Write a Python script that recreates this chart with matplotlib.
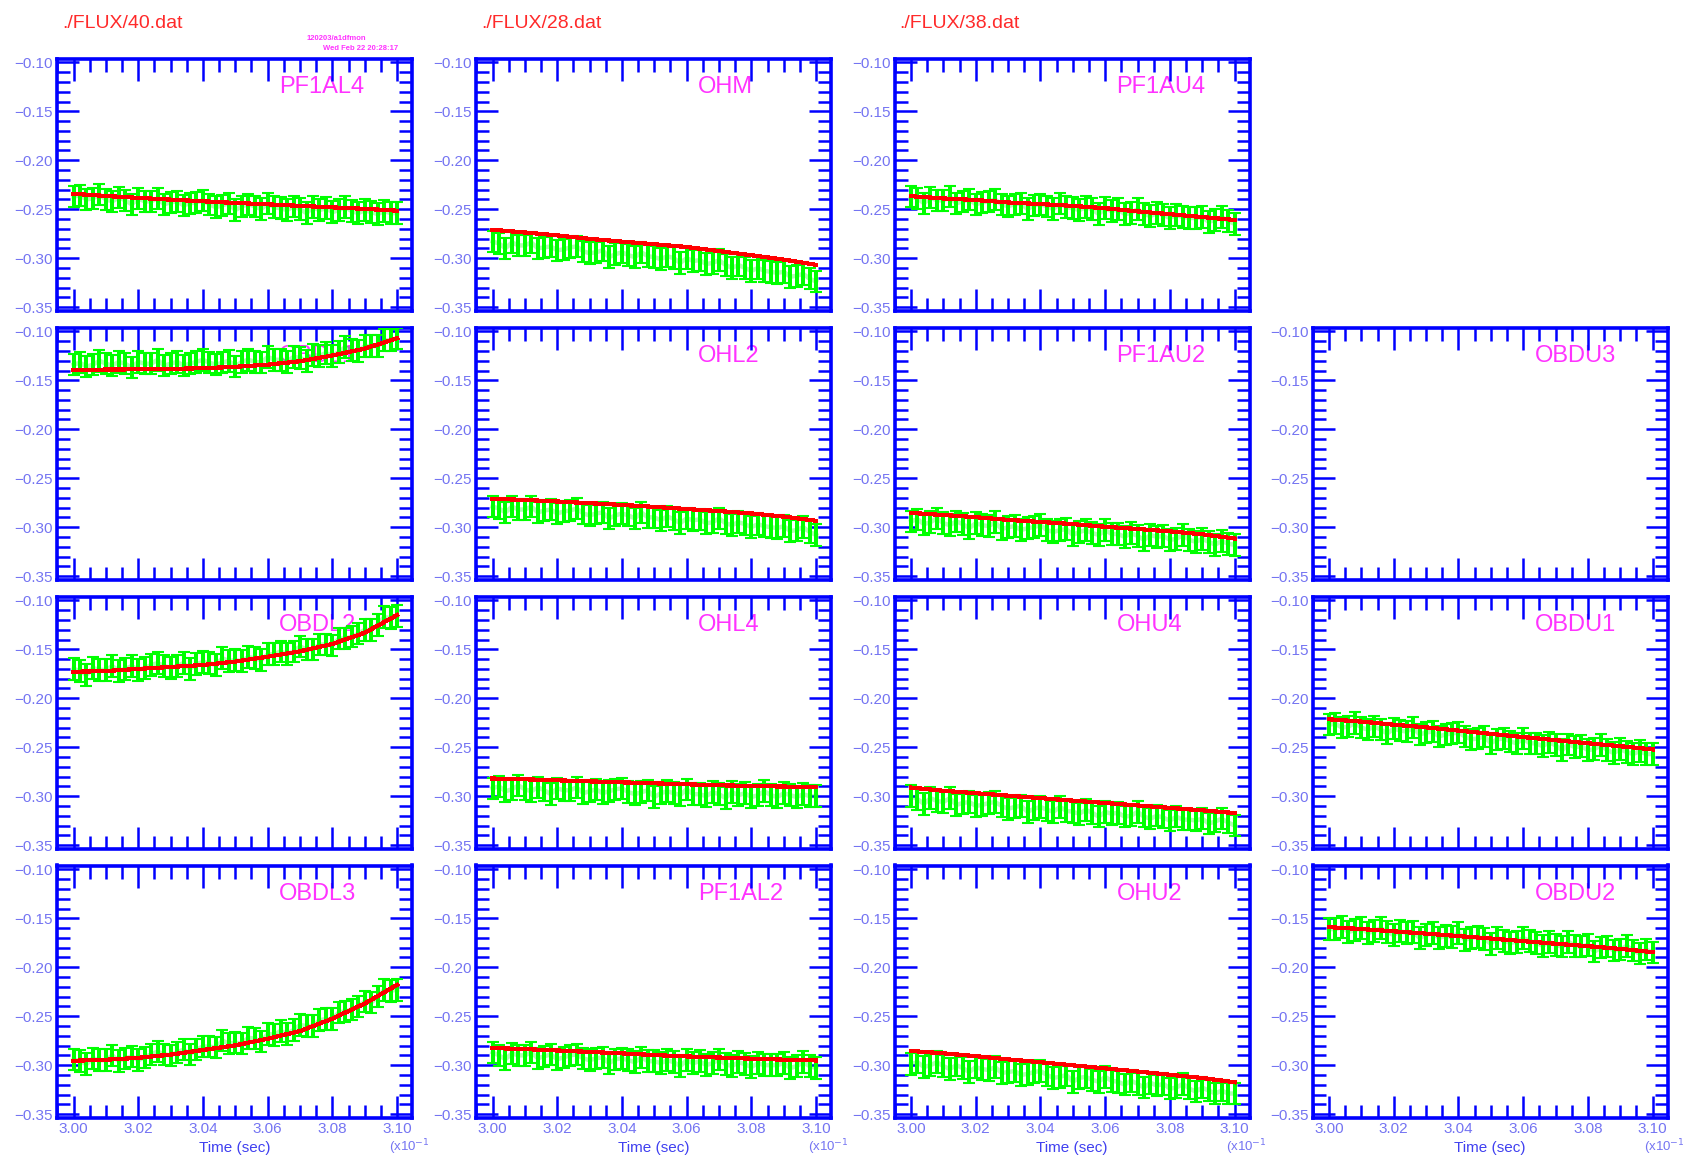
import numpy as np
import matplotlib.pyplot as plt
from matplotlib.ticker import MultipleLocator

plt.rcParams['font.family'] = ['Liberation Sans', 'DejaVu Sans']

W, H = 1689, 1157
BLUE = '#0000ff'
LBLUE = '#7474f2'
MAGENTA = '#ff33ff'

# times of the fit curve and of the measured points (sec, x10^-1)
t_fit = [3.00, 3.01, 3.02, 3.03, 3.04, 3.05, 3.06, 3.07, 3.08, 3.09, 3.10]
t_meas = [3.000, 3.002, 3.004, 3.006, 3.008, 3.010, 3.012, 3.014, 3.016, 3.018,
          3.020, 3.022, 3.024, 3.026, 3.028, 3.030, 3.032, 3.034, 3.036, 3.038,
          3.040, 3.042, 3.044, 3.046, 3.048, 3.050, 3.052, 3.054, 3.056, 3.058,
          3.060, 3.062, 3.064, 3.066, 3.068, 3.070, 3.072, 3.074, 3.076, 3.078,
          3.080, 3.082, 3.084, 3.086, 3.088, 3.090, 3.092, 3.094, 3.096, 3.098,
          3.100]

files = ['./FLUX/40.dat', './FLUX/28.dat', './FLUX/38.dat']

# panel names, row by row (None = empty cell)
names = [['PF1AL4', 'OHM', 'PF1AU4', None],
         ['OBDL1', 'OHL2', 'PF1AU2', 'OBDU3'],
         ['OBDL2', 'OHL4', 'OHU4', 'OBDU1'],
         ['OBDL3', 'PF1AL2', 'OHU2', 'OBDU2']]

# red fit curves (x1e-3)
fit_pf1al4 = [-234.2, -236.5, -238.4, -240.2, -241.9, -243.6, -245.0, -246.6, -248.1, -249.6, -251.5]
fit_ohm = [-271.0, -273.8, -276.7, -280.3, -283.1, -285.8, -288.6, -292.8, -297.0, -301.5, -306.8]
fit_pf1au4 = [-236.7, -239.0, -240.6, -243.1, -244.8, -246.6, -249.0, -252.2, -255.1, -258.0, -261.0]
fit_obdl1 = [-139.2, -139.0, -138.7, -138.3, -137.6, -136.2, -134.0, -130.5, -124.6, -117.6, -107.0]
fit_ohl2 = [-271.0, -272.2, -273.8, -275.5, -277.3, -279.3, -281.5, -283.6, -286.0, -289.2, -293.5]
fit_pf1au2 = [-285.5, -287.6, -289.8, -292.6, -294.7, -296.9, -299.6, -301.9, -304.3, -307.3, -311.6]
fit_obdl2 = [-172.9, -172.2, -170.0, -168.0, -166.0, -162.5, -157.5, -152.0, -144.5, -133.0, -115.0]
fit_ohl4 = [-282.0, -282.8, -283.8, -284.9, -285.9, -286.9, -287.9, -288.9, -289.6, -290.2, -290.8]
fit_ohu4 = [-291.2, -294.5, -297.0, -299.5, -302.0, -304.6, -307.0, -309.5, -312.0, -314.5, -317.3]
fit_obdu1 = [-221.5, -223.8, -227.0, -229.7, -233.0, -236.3, -239.6, -242.8, -246.0, -249.0, -252.2]
fit_obdl3 = [-295.5, -294.5, -292.5, -289.3, -284.5, -279.8, -273.0, -265.2, -252.5, -237.0, -218.0]
fit_pf1al2 = [-282.5, -283.6, -285.0, -286.5, -288.0, -289.7, -291.1, -292.2, -293.4, -294.4, -295.2]
fit_ohu2 = [-285.5, -287.9, -290.8, -294.1, -297.0, -300.2, -303.3, -306.5, -309.8, -313.1, -317.5]
fit_obdu2 = [-159.0, -160.9, -163.3, -165.6, -168.1, -170.6, -173.3, -175.9, -178.4, -181.2, -184.5]

# green measured points (x1e-3), error bar half height
meas_err = 11.0
meas_pf1al4 = [-237, -236, -240, -239, -235, -240, -242, -238, -241, -245,
               -239, -242, -242, -239, -245, -243, -242, -246, -244, -243,
               -241, -245, -248, -246, -244, -251, -247, -245, -247, -250,
               -244, -248, -249, -251, -247, -250, -254, -248, -251, -249,
               -253, -251, -248, -252, -254, -251, -253, -255, -252, -254,
               -254]
meas_ohm = [-283, -285, -290, -284, -287, -287, -284, -290, -289, -288,
            -292, -291, -289, -288, -293, -295, -294, -292, -299, -296,
            -294, -297, -299, -294, -298, -299, -301, -298, -300, -305,
            -300, -303, -302, -306, -305, -302, -307, -310, -307, -310,
            -313, -310, -313, -314, -315, -314, -319, -318, -316, -321,
            -324]
meas_pf1au4 = [-237, -239, -244, -238, -241, -241, -237, -244, -242, -240,
               -245, -243, -242, -240, -245, -247, -245, -244, -250, -246,
               -245, -247, -250, -244, -248, -249, -251, -248, -250, -255,
               -249, -252, -250, -255, -254, -250, -255, -257, -254, -256,
               -259, -256, -258, -259, -259, -258, -263, -261, -258, -262,
               -265]
meas_obdl1 = [-134, -132, -136, -134, -130, -133, -135, -131, -133, -137,
              -131, -133, -133, -129, -135, -133, -131, -135, -133, -131,
              -129, -132, -134, -132, -130, -136, -131, -129, -131, -132,
              -126, -129, -129, -131, -126, -127, -130, -124, -125, -122,
              -125, -121, -116, -119, -120, -115, -115, -115, -109, -109,
              -107]
meas_ohl2 = [-279, -281, -285, -279, -282, -282, -279, -285, -283, -282,
             -286, -284, -283, -281, -286, -288, -286, -285, -291, -288,
             -286, -288, -291, -285, -290, -290, -293, -289, -292, -296,
             -291, -293, -292, -296, -295, -291, -296, -298, -295, -297,
             -300, -297, -299, -300, -301, -299, -304, -303, -300, -305,
             -308]
meas_pf1au2 = [-294, -292, -297, -295, -291, -296, -298, -294, -297, -301,
               -296, -298, -299, -295, -302, -300, -299, -303, -301, -300,
               -298, -303, -305, -303, -302, -308, -305, -303, -306, -308,
               -303, -307, -307, -310, -306, -309, -313, -308, -310, -309,
               -313, -312, -308, -313, -315, -312, -315, -318, -314, -317,
               -318]
meas_obdl2 = [-170, -172, -176, -169, -171, -171, -167, -172, -170, -167,
              -171, -169, -166, -164, -167, -169, -167, -164, -170, -165,
              -163, -164, -166, -159, -162, -161, -162, -158, -159, -161,
              -155, -155, -152, -155, -152, -147, -150, -150, -145, -145,
              -146, -139, -139, -137, -134, -130, -130, -125, -117, -118,
              -116]
meas_ohl4 = [-292, -290, -295, -293, -289, -293, -295, -291, -294, -298,
             -292, -294, -294, -291, -297, -295, -293, -297, -295, -293,
             -292, -296, -298, -296, -294, -301, -297, -295, -297, -299,
             -293, -298, -298, -300, -296, -298, -302, -296, -299, -297,
             -301, -299, -295, -299, -301, -297, -299, -301, -298, -300,
             -300]
meas_ohu4 = [-300, -303, -308, -302, -305, -306, -302, -309, -307, -306,
             -310, -309, -307, -306, -310, -313, -311, -310, -316, -313,
             -311, -314, -316, -311, -315, -316, -318, -314, -317, -321,
             -316, -318, -317, -321, -320, -316, -321, -323, -320, -322,
             -325, -321, -324, -324, -325, -323, -328, -326, -323, -327,
             -330]
meas_obdu1 = [-227, -226, -230, -229, -225, -230, -232, -229, -232, -236,
              -231, -233, -234, -230, -237, -235, -234, -239, -237, -236,
              -235, -239, -242, -241, -239, -246, -242, -241, -244, -246,
              -241, -246, -246, -249, -245, -248, -253, -247, -250, -249,
              -253, -252, -248, -253, -256, -252, -255, -257, -254, -257,
              -257]
meas_obdl3 = [-294, -296, -299, -293, -295, -295, -290, -296, -293, -291,
              -295, -292, -289, -286, -289, -290, -287, -284, -289, -284,
              -281, -281, -282, -275, -278, -277, -278, -272, -273, -276,
              -268, -269, -265, -268, -264, -259, -260, -260, -254, -253,
              -253, -246, -245, -243, -240, -235, -236, -230, -223, -224,
              -223]
meas_pf1al2 = [-287, -290, -294, -288, -290, -290, -287, -293, -291, -289,
               -294, -292, -290, -289, -293, -295, -293, -292, -298, -294,
               -293, -295, -297, -292, -296, -296, -298, -295, -297, -301,
               -295, -298, -296, -300, -298, -294, -299, -301, -297, -299,
               -302, -298, -300, -300, -300, -298, -303, -301, -297, -301,
               -303]
meas_ohu2 = [-299, -297, -302, -300, -297, -301, -304, -300, -303, -307,
             -302, -304, -305, -302, -308, -307, -306, -310, -309, -307,
             -306, -310, -313, -312, -310, -317, -313, -312, -315, -317,
             -312, -316, -317, -320, -316, -319, -323, -318, -321, -319,
             -324, -323, -319, -324, -327, -323, -326, -329, -326, -329,
             -329]
meas_obdu2 = [-161, -161, -159, -164, -162, -160, -165, -163, -160, -164,
              -167, -163, -165, -164, -170, -167, -165, -170, -168, -169,
              -165, -172, -170, -169, -171, -176, -170, -173, -175, -174,
              -170, -173, -175, -178, -174, -177, -179, -174, -178, -179,
              -177, -184, -180, -179, -183, -182, -178, -183, -186, -182,
              -185]

curves = {
    'PF1AL4': (fit_pf1al4, meas_pf1al4), 'OHM': (fit_ohm, meas_ohm),
    'PF1AU4': (fit_pf1au4, meas_pf1au4), 'OBDL1': (fit_obdl1, meas_obdl1),
    'OHL2': (fit_ohl2, meas_ohl2), 'PF1AU2': (fit_pf1au2, meas_pf1au2),
    'OBDL2': (fit_obdl2, meas_obdl2), 'OHL4': (fit_ohl4, meas_ohl4),
    'OHU4': (fit_ohu4, meas_ohu4), 'OBDU1': (fit_obdu1, meas_obdu1),
    'OBDL3': (fit_obdl3, meas_obdl3), 'PF1AL2': (fit_pf1al2, meas_pf1al2),
    'OHU2': (fit_ohu2, meas_ohu2), 'OBDU2': (fit_obdu2, meas_obdu2),
}

x_ticks = [3.00, 3.02, 3.04, 3.06, 3.08, 3.10]
y_ticks = [-0.35, -0.30, -0.25, -0.20, -0.15, -0.10]

# panel frames in pixels
col_left = [57, 476, 894.5, 1312.5]
row_top = [58.5, 327.5, 596.5, 865.5]
pw, ph = 355, 252


def draw_panel(ax, name, bottom_row):
    ax.set_xlim(2.9949, 3.1046)
    ax.set_ylim(-0.3535, -0.0960)
    for s in ax.spines.values():
        s.set_color(BLUE)
        s.set_linewidth(2.6)

    ax.set_xticks(x_ticks, labels=['%.2f' % v for v in x_ticks])
    ax.set_yticks(y_ticks, labels=[('%.2f' % v).replace('-', '\u2212') for v in y_ticks])
    ax.xaxis.set_minor_locator(MultipleLocator(0.005))
    ax.yaxis.set_minor_locator(MultipleLocator(0.01))
    ax.tick_params(which='both', direction='in', top=True, right=True,
                   color=BLUE, labelcolor=LBLUE, labelsize=11, width=1.8)
    ax.tick_params(which='major', length=15.8)
    ax.tick_params(which='minor', length=9.4)
    ax.tick_params(axis='y', pad=3)
    ax.tick_params(axis='x', pad=3.5, labelbottom=bottom_row)

    ax.text(0.625, 0.885, name, transform=ax.transAxes, color=MAGENTA,
            fontsize=17, ha='left', va='center', zorder=1)

    if bottom_row:
        ax.text(0.5, -0.12, 'Time (sec)', transform=ax.transAxes, color='#4040f0',
                fontsize=11, ha='center', va='center')
        ax.text(0.935, -0.117, '(x10$^{-1}$', transform=ax.transAxes, color=LBLUE,
                fontsize=9.5, ha='left', va='center')

    if name not in curves:
        return
    fit, meas = curves[name]
    fit = np.array(fit) / 1000
    meas = np.array(meas) / 1000

    # measured points with error bars
    eb = ax.errorbar(t_meas, meas, yerr=meas_err / 1000, fmt='none', ecolor='#00ff00',
                     elinewidth=1.5, capsize=4.0, capthick=1.5, zorder=3)
    for cap in eb.lines[1]:
        cap.set_antialiased(False)
    for col in eb.lines[2]:
        col.set_antialiased(False)
    ax.plot(t_meas, meas, color='#00ff00', alpha=0.3, lw=3.2, zorder=3)

    # fit curve
    ax.plot(t_fit, fit, color='#ff0000', lw=2.3, antialiased=False, zorder=4)


fig = plt.figure(figsize=(W / 100, H / 100), dpi=100)

for r in range(4):
    for c in range(4):
        name = names[r][c]
        if name is None:
            continue
        ax = fig.add_axes([col_left[c] / W, 1 - (row_top[r] + ph) / H, pw / W, ph / H])
        draw_panel(ax, name, r == 3)

# file names over the first three columns
for c in range(3):
    fig.text((col_left[c] + 5) / W, 1 - 23 / H, files[c], color='#ff2a2a',
             fontsize=14, ha='left', va='center')

fig.text(307 / W, 1 - 38 / H, '120203/a1dfmon', color=MAGENTA, fontsize=5.5,
         fontweight='bold', ha='left', va='center')
fig.text(323 / W, 1 - 49 / H, 'Wed Feb 22 20:28:17', color=MAGENTA, fontsize=5.5,
         fontweight='bold', ha='left', va='center')

fig.savefig('out.png', dpi=100)
